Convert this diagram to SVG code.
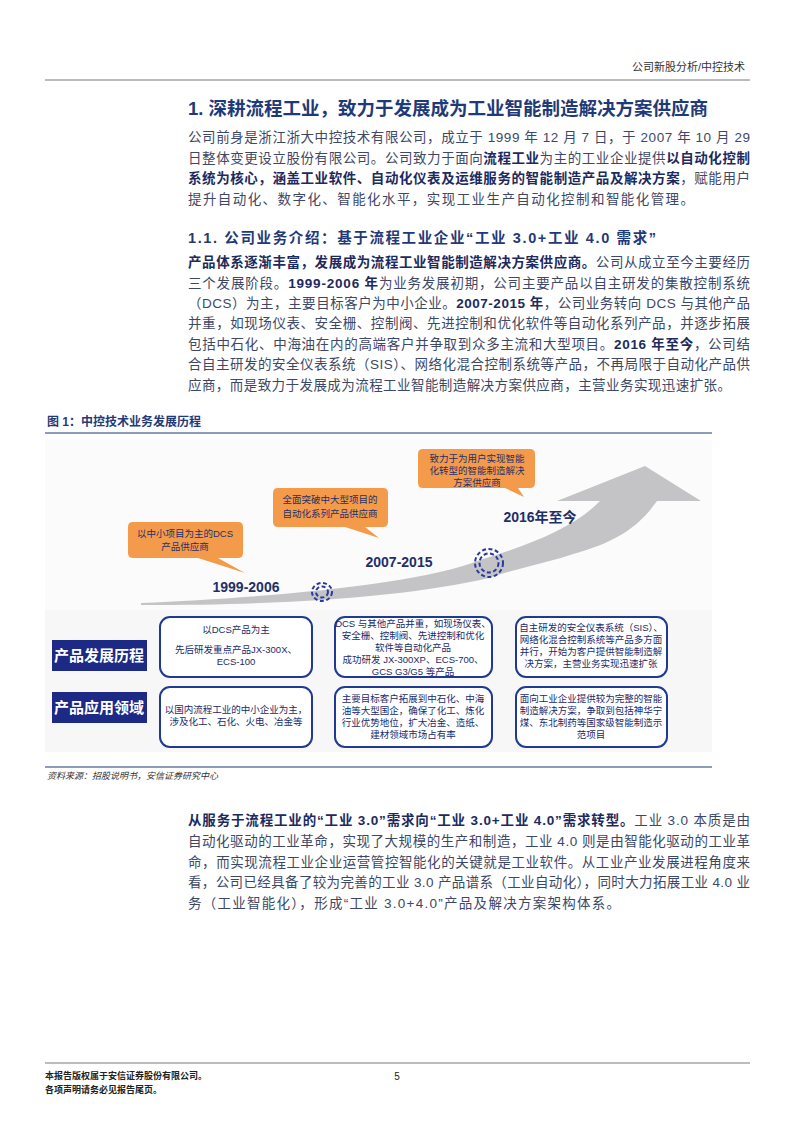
<svg xmlns="http://www.w3.org/2000/svg" width="793" height="1122" viewBox="0 0 793 1122">
<style>
text{font-family:"Liberation Sans","Noto Sans CJK SC",sans-serif}
.b{font-size:13.5px;fill:#3d4866}
.k{font-weight:bold;fill:#1c2a5e}
.h{font-weight:bold;fill:#1f3a78}
.bx{fill:#fff;stroke:#1f3a93;stroke-width:2}
.t{font-size:9.5px;fill:#1a2a6c;text-anchor:middle}
.bub{fill:#f39a4b}
.bt{font-size:9.5px;fill:#1f2f6a;text-anchor:middle}
.yr{font-size:14px;font-weight:bold;fill:#1f2f6a;text-anchor:middle}
.lb{fill:#1c2a86}
.lt{font-size:15px;font-weight:bold;fill:#fff;text-anchor:middle}
</style>
<rect width="793" height="1122" fill="#fff"/>
<text x="745" y="71" font-size="11" fill="#333" text-anchor="end">公司新股分析/中控技术</text>
<line x1="45" y1="80" x2="750" y2="80" stroke="#555" stroke-width="0.8"/>

<text x="188" y="115" font-size="18.5" class="h">1. 深耕流程工业，致力于发展成为工业智能制造解决方案供应商</text>
<text class="b" x="188" y="142" textLength="562" lengthAdjust="spacing">公司前身是浙江浙大中控技术有限公司，成立于 1999 年 12 月 7 日，于 2007 年 10 月 29</text>
<text class="b" x="188" y="163" textLength="562" lengthAdjust="spacing">日整体变更设立股份有限公司。公司致力于面向<tspan class="k">流程工业</tspan>为主的工业企业提供<tspan class="k">以自动化控制</tspan></text>
<text class="b" x="188" y="183" textLength="562" lengthAdjust="spacing"><tspan class="k">系统为核心，涵盖工业软件、自动化仪表及运维服务的智能制造产品及解决方案</tspan>，赋能用户</text>
<text class="b" x="188" y="204" textLength="506" lengthAdjust="spacing">提升自动化、数字化、智能化水平，实现工业生产自动化控制和智能化管理。</text>

<text x="188" y="243" font-size="14.5" class="h" textLength="468" lengthAdjust="spacing">1.1. 公司业务介绍：基于流程工业企业“工业 3.0+工业 4.0 需求”</text>
<text class="b" x="188" y="267" textLength="562" lengthAdjust="spacing"><tspan class="k">产品体系逐渐丰富，发展成为流程工业智能制造解决方案供应商。</tspan>公司从成立至今主要经历</text>
<text class="b" x="188" y="288" textLength="562" lengthAdjust="spacing">三个发展阶段。<tspan class="k">1999-2006 年</tspan>为业务发展初期，公司主要产品以自主研发的集散控制系统</text>
<text class="b" x="188" y="308" textLength="562" lengthAdjust="spacing">（DCS）为主，主要目标客户为中小企业。<tspan class="k">2007-2015 年</tspan>，公司业务转向 DCS 与其他产品</text>
<text class="b" x="188" y="328" textLength="562" lengthAdjust="spacing">并重，如现场仪表、安全栅、控制阀、先进控制和优化软件等自动化系列产品，并逐步拓展</text>
<text class="b" x="188" y="349" textLength="562" lengthAdjust="spacing">包括中石化、中海油在内的高端客户并争取到众多主流和大型项目。<tspan class="k">2016 年至今</tspan>，公司结</text>
<text class="b" x="188" y="369" textLength="562" lengthAdjust="spacing">合自主研发的安全仪表系统（SIS）、网络化混合控制系统等产品，不再局限于自动化产品供</text>
<text class="b" x="188" y="390" textLength="543" lengthAdjust="spacing">应商，而是致力于发展成为流程工业智能制造解决方案供应商，主营业务实现迅速扩张。</text>

<text x="47" y="426" font-size="12" font-weight="bold" fill="#1f3a78">图 1：中控技术业务发展历程</text>
<line x1="45" y1="433" x2="712" y2="433" stroke="#1f3a78" stroke-width="1.2"/>

<g id="figure">
<rect x="45" y="440" width="667" height="312" fill="#f7f7f8"/>
<rect x="45" y="440" width="667" height="170" fill="#fbfbfb"/>
<g id="arrow">
<path d="M141,603 C260,598 420,585 480,560 C530,545 575,527 600,501 L557,501 L645,466 L701,501 L657,501 C640,525 620,540 580,552 C540,565 510,570 489,578 C410,596 300,605 141,605 Z" fill="#c4c4c6"/>
</g>
<g id="circles" fill="none" stroke="#2a3a9a" stroke-width="2" stroke-dasharray="4 2.5">
<ellipse cx="322" cy="592" rx="10" ry="9"/>
<ellipse cx="322" cy="592" rx="6" ry="5.5"/>
<ellipse cx="489" cy="563" rx="14" ry="14"/>
<ellipse cx="489" cy="563" rx="9.5" ry="9.5"/>
</g>
<g id="bubble1">
<path class="bub" d="M133,522 H238 Q243,522 243,527 V553 Q243,558 238,558 H218 L245,573 L198,558 H133 Q128,558 128,553 V527 Q128,522 133,522 Z"/>
<text class="bt" x="185" y="537">以中小项目为主的DCS</text>
<text class="bt" x="185" y="550">产品供应商</text>
</g>
<g id="bubble2">
<path class="bub" d="M278,488 H383 Q388,488 388,493 V522 Q388,527 383,527 H365 L379,538 L345,527 H278 Q273,527 273,522 V493 Q273,488 278,488 Z"/>
<text class="bt" x="330" y="503">全面突破中大型项目的</text>
<text class="bt" x="330" y="517">自动化系列产品供应商</text>
</g>
<g id="bubble3">
<path class="bub" d="M423,449 H530 Q535,449 535,454 V483 Q535,488 530,488 H518 L524,497 L505,488 H423 Q418,488 418,483 V454 Q418,449 423,449 Z"/>
<text class="bt" x="477" y="462">致力于为用户实现智能</text>
<text class="bt" x="477" y="474">化转型的智能制造解决</text>
<text class="bt" x="477" y="486">方案供应商</text>
</g>
<text class="yr" x="246" y="592">1999-2006</text>
<text class="yr" x="399" y="567">2007-2015</text>
<text class="yr" x="540" y="522">2016年至今</text>

<g id="label1"><rect class="lb" x="52" y="640" width="95" height="31"/><text class="lt" x="99" y="661">产品发展历程</text></g>
<g id="label2"><rect class="lb" x="52" y="692" width="95" height="31"/><text class="lt" x="99" y="713">产品应用领域</text></g>

<g id="box11"><rect class="bx" x="160" y="617" width="152" height="60" rx="10"/>
<text class="t" x="236" y="633">以DCS产品为主</text>
<text class="t" x="236" y="653">先后研发重点产品JX-300X、</text>
<text class="t" x="236" y="665">ECS-100</text></g>
<g id="box12"><rect class="bx" x="335" y="617" width="157" height="60" rx="10"/>
<text class="t" x="413" y="627">DCS 与其他产品并重，如现场仪表、</text>
<text class="t" x="413" y="639">安全栅、控制阀、先进控制和优化</text>
<text class="t" x="413" y="651">软件等自动化产品</text>
<text class="t" x="413" y="663">成功研发 JX-300XP、ECS-700、</text>
<text class="t" x="413" y="675">GCS G3/G5 等产品</text></g>
<g id="box13"><rect class="bx" x="516" y="617" width="151" height="60" rx="10"/>
<text class="t" x="591" y="631">自主研发的安全仪表系统（SIS）、</text>
<text class="t" x="591" y="643">网络化混合控制系统等产品多方面</text>
<text class="t" x="591" y="655">并行，开始为客户提供智能制造解</text>
<text class="t" x="591" y="667">决方案，主营业务实现迅速扩张</text></g>
<g id="box21"><rect class="bx" x="160" y="687" width="152" height="60" rx="10"/>
<text class="t" x="236" y="713">以国内流程工业的中小企业为主，</text>
<text class="t" x="236" y="725">涉及化工、石化、火电、冶金等</text></g>
<g id="box22"><rect class="bx" x="335" y="687" width="157" height="60" rx="10"/>
<text class="t" x="413" y="702">主要目标客户拓展到中石化、中海</text>
<text class="t" x="413" y="714">油等大型国企，确保了化工、炼化</text>
<text class="t" x="413" y="726">行业优势地位，扩大冶金、造纸、</text>
<text class="t" x="413" y="738">建材领域市场占有率</text></g>
<g id="box23"><rect class="bx" x="516" y="687" width="151" height="60" rx="10"/>
<text class="t" x="591" y="702">面向工业企业提供较为完整的智能</text>
<text class="t" x="591" y="714">制造解决方案，争取到包括神华宁</text>
<text class="t" x="591" y="726">煤、东北制药等国家级智能制造示</text>
<text class="t" x="591" y="738">范项目</text></g>
</g>

<line x1="45" y1="767" x2="712" y2="767" stroke="#1f3a78" stroke-width="1.2"/>
<text x="47" y="779" font-size="9" font-style="italic" fill="#333">资料来源：招股说明书，安信证券研究中心</text>

<text class="b" x="188" y="825" textLength="562" lengthAdjust="spacing"><tspan class="k">从服务于流程工业的“工业 3.0”需求向“工业 3.0+工业 4.0”需求转型。</tspan>工业 3.0 本质是由</text>
<text class="b" x="188" y="846" textLength="562" lengthAdjust="spacing">自动化驱动的工业革命，实现了大规模的生产和制造，工业 4.0 则是由智能化驱动的工业革</text>
<text class="b" x="188" y="867" textLength="562" lengthAdjust="spacing">命，而实现流程工业企业运营管控智能化的关键就是工业软件。从工业产业发展进程角度来</text>
<text class="b" x="188" y="887" textLength="562" lengthAdjust="spacing">看，公司已经具备了较为完善的工业 3.0 产品谱系（工业自动化），同时大力拓展工业 4.0 业</text>
<text class="b" x="188" y="908" textLength="432" lengthAdjust="spacing">务（工业智能化），形成“工业 3.0+4.0”产品及解决方案架构体系。</text>

<line x1="45" y1="1063" x2="750" y2="1063" stroke="#555" stroke-width="0.8"/>
<text x="45" y="1079" font-size="9" font-weight="bold" fill="#222">本报告版权属于安信证券股份有限公司。</text>
<text x="45" y="1093" font-size="9" font-weight="bold" fill="#222">各项声明请务必见报告尾页。</text>
<text x="397" y="1080" font-size="10" fill="#222" text-anchor="middle">5</text>
</svg>
